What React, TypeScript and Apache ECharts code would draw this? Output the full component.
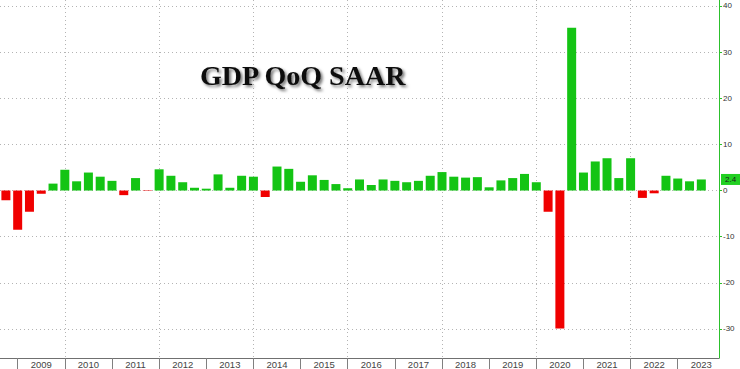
import React, { useEffect, useRef } from "react";
import * as echarts from "echarts";

// Quarter-end categories from 2008Q3 to 2023Q3 (last one is empty padding)
const startYear = 2008;
const endYear = 2023;
const quarterNames = ["Q1", "Q2", "Q3", "Q4"];

// Real GDP, QoQ SAAR (%), 2008Q3 .. 2023Q2
const gdpValues: (number | null)[] = [
  -2.1, -8.5,
  -4.6, -0.7, 1.5, 4.5,
  2.0, 3.9, 3.0, 2.1,
  -1.0, 2.7, -0.1, 4.6,
  3.2, 1.8, 0.6, 0.4,
  3.5, 0.6, 3.2, 3.0,
  -1.4, 5.2, 4.7, 1.9,
  3.3, 2.3, 1.4, 0.5,
  2.4, 1.2, 2.4, 2.1,
  1.8, 2.1, 3.2, 4.0,
  3.0, 2.8, 2.9, 0.7,
  2.2, 2.7, 3.6, 1.8,
  -4.6, -29.9, 35.3, 3.9,
  6.3, 7.0, 2.7, 7.0,
  -1.6, -0.6, 3.2, 2.6,
  2.0, 2.4,
  null,
];

const yTickLabels = ["-30", "-20", "-10", "0", "10", "20", "30", "40"];
const lastValue = 2.4;
const titleText = "GDP QoQ SAAR";

const categories: string[] = [];
for (let y = startYear; y <= endYear; y++) {
  for (let q = 0; q < 4; q++) {
    if (y === startYear && q < 2) continue;
    if (y === endYear && q > 2) continue;
    categories.push(`${y}${quarterNames[q]}`);
  }
}

const GREEN = "#14c414";
const RED = "#f00000";
const GRID_COLOR = "#b4b4b4";
const SANS = "'Liberation Sans', Arial, sans-serif";

export default function App() {
  const ref = useRef<HTMLDivElement>(null);

  useEffect(() => {
    if (!ref.current) return;
    const chart = echarts.init(ref.current, undefined, { renderer: "svg" });
    chart.setOption({
      animation: false,
      backgroundColor: "#ffffff",
      title: {
        text: titleText,
        left: 195,
        top: 56,
        textStyle: {
          fontFamily: "'Liberation Serif', 'Times New Roman', serif",
          fontWeight: "bold",
          fontSize: 28,
          color: "#111111",
          textShadowColor: "rgba(0,0,0,0.55)",
          textShadowBlur: 3,
          textShadowOffsetX: 2,
          textShadowOffsetY: 2,
        },
      },
      grid: { left: 0, right: 21, top: 0, bottom: 11, containLabel: false },
      xAxis: [
        {
          type: "category",
          data: categories,
          boundaryGap: true,
          position: "bottom",
          axisLine: { show: true, onZero: false, lineStyle: { color: "#707070", width: 1 } },
          axisTick: {
            show: true,
            alignWithLabel: true,
            interval: (i: number) => i % 4 === 1,
            length: 11,
            lineStyle: { color: "#808080" },
          },
          axisLabel: {
            interval: (i: number) => i % 4 === 3,
            formatter: (v: string) => v.slice(0, 4),
            margin: 1,
            color: "#444444",
            fontSize: 9.5,
            fontFamily: SANS,
          },
          splitLine: { show: false },
        },
        {
          // helper axis carrying only the every-two-year vertical grid lines
          type: "category",
          data: categories,
          boundaryGap: true,
          position: "bottom",
          axisLine: { show: false, onZero: false },
          axisLabel: { show: false },
          axisTick: {
            show: false,
            alignWithLabel: true,
            interval: (i: number) => i % 8 === 5,
          },
          splitLine: {
            show: true,
            alignWithLabel: true,
            interval: (i: number) => i % 8 === 5,
            lineStyle: { color: GRID_COLOR, type: [1, 3], width: 1 },
          },
        },
      ],
      yAxis: {
        type: "value",
        position: "right",
        min: -36.3,
        max: 41.3,
        splitNumber: 8,
        minInterval: 10,
        maxInterval: 10,
        axisLine: { show: true, lineStyle: { color: "#2cc02c", width: 1 } },
        axisTick: { show: true, length: 3, lineStyle: { color: "#2cc02c" } },
        axisLabel: {
          showMinLabel: false,
          showMaxLabel: false,
          margin: 4,
          color: "#333333",
          fontSize: 8,
          fontFamily: SANS,
          formatter: (v: number) => {
            const s = String(Math.round(v));
            return yTickLabels.includes(s) ? s : "";
          },
        },
        splitLine: {
          show: true,
          showMinLine: false,
          showMaxLine: false,
          lineStyle: { color: GRID_COLOR, type: [1, 3], width: 1 },
        },
      },
      series: [
        {
          type: "bar",
          xAxisIndex: 0,
          data: gdpValues,
          barWidth: 9,
          itemStyle: {
            color: (p: any) => (p.value >= 0 ? GREEN : RED),
          },
          markLine: {
            silent: true,
            symbol: "none",
            lineStyle: { color: "rgba(0,0,0,0)", width: 1 },
            data: [{ yAxis: lastValue }],
            label: {
              show: true,
              position: "end",
              distance: 2,
              formatter: String(lastValue),
              backgroundColor: "#22d022",
              color: "#1a1a1a",
              fontSize: 8,
              fontFamily: SANS,
              padding: [2, 4, 1, 4],
            },
          },
        },
      ],
    });
    return () => chart.dispose();
  }, []);

  return (
    <div
      ref={ref}
      style={{ position: "absolute", left: 0, top: 0, width: 740, height: 369, background: "#fff" }}
    />
  );
}
